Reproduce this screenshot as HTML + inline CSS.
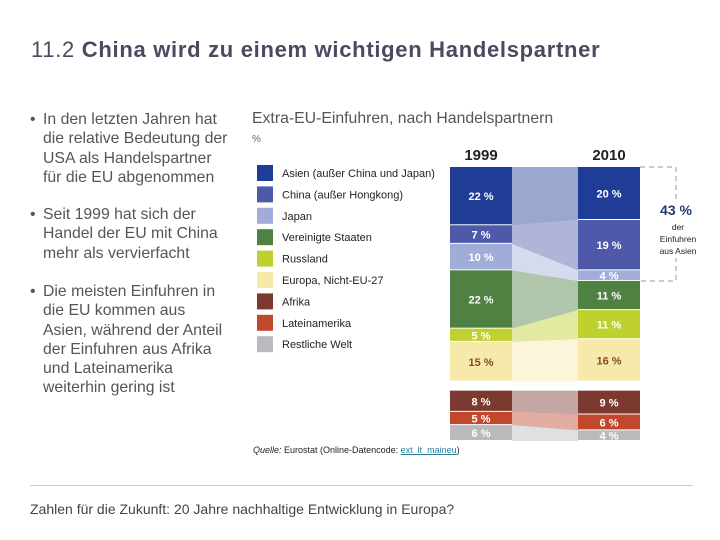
<!DOCTYPE html>
<html><head><meta charset="utf-8"><style>
body{margin:0;width:720px;height:540px;background:#fff;font-family:"Liberation Sans",sans-serif;position:relative;overflow:hidden;color:#444}
.t{position:absolute;white-space:nowrap}
.bul{position:absolute;left:30px;font-size:15.8px;line-height:19.3px;color:#555}
.bul span{position:absolute;left:0}
.bul div{margin-left:13px}
</style></head><body>
<div class="t" style="left:31px;top:37px;font-size:22px;color:#4a4a60;font-weight:bold;letter-spacing:0.7px"><span style="font-weight:normal">11.2</span> China wird zu einem wichtigen Handelspartner</div>
<div class="bul" style="top:110px"><span>•</span><div>In den letzten Jahren hat<br>die relative Bedeutung der<br>USA als Handelspartner<br>für die EU abgenommen</div></div>
<div class="bul" style="top:205px"><span>•</span><div>Seit 1999 hat sich der<br>Handel der EU mit China<br>mehr als vervierfacht</div></div>
<div class="bul" style="top:282px"><span>•</span><div>Die meisten Einfuhren in<br>die EU kommen aus<br>Asien, während der Anteil<br>der Einfuhren aus Afrika<br>und Lateinamerika<br>weiterhin gering ist</div></div>
<div class="t" style="left:252px;top:110px;font-size:15.8px;color:#555">Extra-EU-Einfuhren, nach Handelspartnern</div>
<div class="t" style="left:252px;top:134px;font-size:10px;color:#666">%</div>
<svg id="chart" width="720" height="540" style="position:absolute;left:0;top:0"></svg>
<div class="t" style="left:253px;top:445px;font-size:9px;color:#222"><i>Quelle:</i> Eurostat (Online-Datencode: <span style="color:#2a7fa0;text-decoration:underline">ext_lt_maineu</span>)</div>
<div style="position:absolute;left:30px;top:485px;width:663px;height:1px;background:#ccc"></div>
<div class="t" style="left:30px;top:501px;font-size:14px;color:#444">Zahlen für die Zukunft: 20 Jahre nachhaltige Entwicklung in Europa?</div>
<script>
const categories=["Asien (außer China und Japan)","China (außer Hongkong)","Japan","Vereinigte Staaten","Russland","Europa, Nicht-EU-27","Afrika","Lateinamerika","Restliche Welt"];
const values1999=[22,7,10,22,5,15,8,5,6];
const values2010=[20,19,4,11,11,16,9,6,4];
const years=["1999","2010"];
const colors=["#1f3d96","#4e59a9","#a2acd8","#4f8142","#bfd12f","#f6e9aa","#7c3930","#c1472d","#b9babd"];
const textColors=["#fff","#fff","#fff","#fff","#fff","#8a4a1a","#fff","#fff","#fff"];
const NS="http://www.w3.org/2000/svg";
const svg=document.getElementById('chart');
const top0=167,scale=2.65,gapAfter=5,gapSize=9;
function mk(tag,attrs){const e=document.createElementNS(NS,tag);for(const k in attrs)e.setAttribute(k,attrs[k]);svg.appendChild(e);return e;}
function stack(vals){let y=top0;return vals.map((v,i)=>{const s=y;y+=v*scale;const r=[s,y];if(i===gapAfter)y+=gapSize;return r;});}
const s1=stack(values1999),s2=stack(values2010);
const x1=450,x2=578,bw=62;
categories.forEach((c,i)=>{
 const p=mk('polygon',{points:`${x1+bw},${s1[i][0]} ${x2},${s2[i][0]} ${x2},${s2[i][1]} ${x1+bw},${s1[i][1]}`,fill:colors[i],'fill-opacity':0.45});
 
 
});
[[x1,s1,values1999],[x2,s2,values2010]].forEach(([x,st,vals],k)=>{
 vals.forEach((v,i)=>{
  const r=mk('rect',{x:x,y:st[i][0],width:bw,height:st[i][1]-st[i][0]-1,fill:colors[i]});
  
  
  const t=mk('text',{x:x+bw/2,y:(st[i][0]+st[i][1])/2+4,'text-anchor':'middle','font-size':11,'font-weight':'bold',fill:textColors[i],'font-family':'Liberation Sans, sans-serif'});
  t.textContent=v+' %';
  
  
 });
 const yl=mk('text',{x:x+bw/2,y:160,'text-anchor':'middle','font-size':15,'font-weight':'bold',fill:'#222','font-family':'Liberation Sans, sans-serif'});
 yl.textContent=years[k];
 
 
});
categories.forEach((c,i)=>{
 const y=165+i*21.4;
 const r=mk('rect',{x:257,y:y,width:16,height:16,fill:colors[i]});
 
 
 const t=mk('text',{x:282,y:y+12,'font-size':11,fill:'#222','font-family':'Liberation Sans, sans-serif'});
 t.textContent=c;
 
 
});
const asiaEnd=s2[2][1];
const br=mk('path',{d:`M${x2+bw},${top0} H676 V${asiaEnd} H${x2+bw}`,fill:'none',stroke:'#999','stroke-dasharray':'5,4','stroke-width':1});


const bg=mk('rect',{x:652,y:200,width:50,height:58,fill:'#fff'});


const asiaTotal=values2010[0]+values2010[1]+values2010[2];
const a=mk('text',{x:676,y:215,'text-anchor':'middle','font-size':14,'font-weight':'bold',fill:'#1f3d6e','font-family':'Liberation Sans, sans-serif'});
a.textContent=asiaTotal+' %';


["der","Einfuhren","aus Asien"].forEach((w,i)=>{
 const t=mk('text',{x:678,y:230+i*12,'text-anchor':'middle','font-size':8.5,fill:'#222','font-family':'Liberation Sans, sans-serif'});
 t.textContent=w;
 
 
});
</script>
</body></html>
